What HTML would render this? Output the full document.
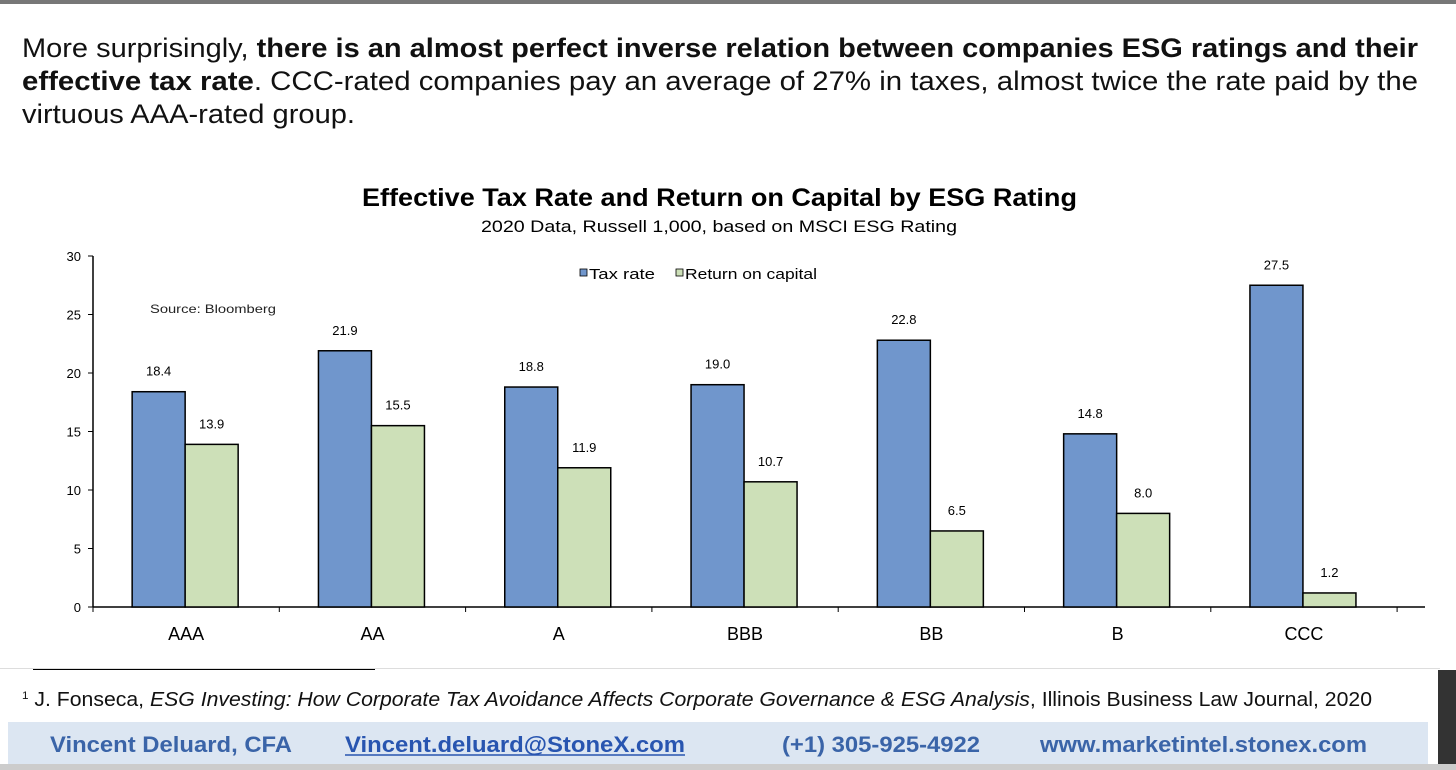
<!DOCTYPE html>
<html><head><meta charset="utf-8"><style>
body{margin:0;width:1456px;height:770px;overflow:hidden;background:#fff;font-family:"Liberation Sans",Arial,sans-serif;position:relative}
.abs{position:absolute}
</style></head><body>
<div class="abs" style="left:0;top:0;width:1456px;height:4px;background:#777"></div>
<div class="abs" style="left:0;top:668px;width:1440px;height:1px;background:#ddd"></div>
<div class="abs" style="left:33px;top:669px;width:342px;height:1px;background:#000"></div>
<div class="abs" style="left:1438px;top:670px;width:18px;height:95px;background:#333"></div>
<div class="abs" style="left:8px;top:722px;width:1420px;height:42px;background:#dce6f2"></div>
<div class="abs" style="left:0;top:764px;width:1456px;height:6px;background:#ccc"></div>
<svg class="abs" style="left:0;top:0" width="1456" height="770">
<g font-size="27" fill="#111">
<text x="22" y="57" textLength="1396" lengthAdjust="spacingAndGlyphs">More surprisingly, <tspan font-weight="bold">there is an almost perfect inverse relation between companies ESG ratings and their</tspan></text>
<text x="22" y="90" textLength="1396" lengthAdjust="spacingAndGlyphs"><tspan font-weight="bold">effective tax rate</tspan>. CCC-rated companies pay an average of 27% in taxes, almost twice the rate paid by the</text>
<text x="22" y="123" textLength="333" lengthAdjust="spacingAndGlyphs">virtuous AAA-rated group.</text>
</g>
<text x="362" y="206" textLength="715" lengthAdjust="spacingAndGlyphs" font-size="25" font-weight="bold" fill="#000">Effective Tax Rate and Return on Capital by ESG Rating</text>
<text x="481" y="232" textLength="476" lengthAdjust="spacingAndGlyphs" font-size="17" fill="#000">2020 Data, Russell 1,000, based on MSCI ESG Rating</text>
<text x="150" y="313" textLength="126" lengthAdjust="spacingAndGlyphs" font-size="12" fill="#222">Source: Bloomberg</text>
<g>
<rect x="580" y="269" width="7" height="7" fill="#7096cc" stroke="#000" stroke-width="0.8"/>
<text x="589" y="279" textLength="66" lengthAdjust="spacingAndGlyphs" font-size="15" fill="#000">Tax rate</text>
<rect x="676" y="269" width="7" height="7" fill="#cde0b8" stroke="#000" stroke-width="0.8"/>
<text x="685" y="279" textLength="132" lengthAdjust="spacingAndGlyphs" font-size="15" fill="#000">Return on capital</text>
</g>
<g id="plot"></g>
<text x="22" y="706" textLength="1350" lengthAdjust="spacingAndGlyphs" font-size="20" fill="#111"><tspan font-size="11" dy="-7">1</tspan><tspan dy="7"> J. Fonseca, </tspan><tspan font-style="italic">ESG Investing: How Corporate Tax Avoidance Affects Corporate Governance &amp; ESG Analysis</tspan>, Illinois Business Law Journal, 2020</text>
<g font-size="22" font-weight="bold">
<text x="50" y="752" textLength="242" lengthAdjust="spacingAndGlyphs" fill="#3a64a8">Vincent Deluard, CFA</text>
<text x="345" y="752" textLength="340" lengthAdjust="spacingAndGlyphs" fill="#2855b0">Vincent.deluard@StoneX.com</text>
<line x1="345" y1="755" x2="685" y2="755" stroke="#2855b0" stroke-width="1.5"/>
<text x="782" y="752" textLength="198" lengthAdjust="spacingAndGlyphs" fill="#3a64a8">(+1) 305-925-4922</text>
<text x="1040" y="752" textLength="327" lengthAdjust="spacingAndGlyphs" fill="#3a64a8">www.marketintel.stonex.com</text>
</g>
</svg>
<script>
const categories=["AAA","AA","A","BBB","BB","B","CCC"];
const taxRate=[18.4,21.9,18.8,19.0,22.8,14.8,27.5];
const returnOnCapital=[13.9,15.5,11.9,10.7,6.5,8.0,1.2];
const yTicks=[0,5,10,15,20,25,30];
const NS="http://www.w3.org/2000/svg";
const g=document.getElementById("plot");
const x0=93,step=186.3,y0=607,yTop=256,yMax=30,bw=53;
const y=v=>y0-(v/yMax)*(y0-yTop);
const cx=i=>x0+step*(i+0.5);
function mk(t,a,txt){const e=document.createElementNS(NS,t);for(const k in a)e.setAttribute(k,a[k]);if(txt!==undefined)e.textContent=txt;g.appendChild(e);return e;}
let e=mk("line",{x1:x0,y1:yTop,x2:x0,y2:y0,stroke:"#000","stroke-width":1.5});


e=mk("line",{x1:x0,y1:y0,x2:1425,y2:y0,stroke:"#000","stroke-width":1.5});


yTicks.forEach(t=>{
  mk("line",{x1:x0-5,y1:y(t),x2:x0,y2:y(t),stroke:"#000"});
  e=mk("text",{x:x0-12,y:y(t)+5,"text-anchor":"end","font-size":13,fill:"#000"},t);
  
  
});
for(let i=0;i<=categories.length;i++){mk("line",{x1:x0+step*i,y1:y0,x2:x0+step*i,y2:y0+5,stroke:"#000"});}
categories.forEach((c,i)=>{
  const c0=cx(i);
  e=mk("rect",{x:c0-bw-1,y:y(taxRate[i]),width:bw,height:y0-y(taxRate[i]),fill:"#7096cc",stroke:"#000","stroke-width":1.5});
  
  
  e=mk("rect",{x:c0-1,y:y(returnOnCapital[i]),width:bw,height:y0-y(returnOnCapital[i]),fill:"#cde0b8",stroke:"#000","stroke-width":1.5});
  
  
  e=mk("text",{x:c0-bw/2-1,y:y(taxRate[i])-16,"text-anchor":"middle","font-size":13,fill:"#000"},taxRate[i].toFixed(1));
  
  
  e=mk("text",{x:c0+bw/2-1,y:y(returnOnCapital[i])-16,"text-anchor":"middle","font-size":13,fill:"#000"},returnOnCapital[i].toFixed(1));
  
  
  e=mk("text",{x:c0,y:y0+33,"text-anchor":"middle","font-size":18,fill:"#000"},c);
  
  
});
</script>
</body></html>
